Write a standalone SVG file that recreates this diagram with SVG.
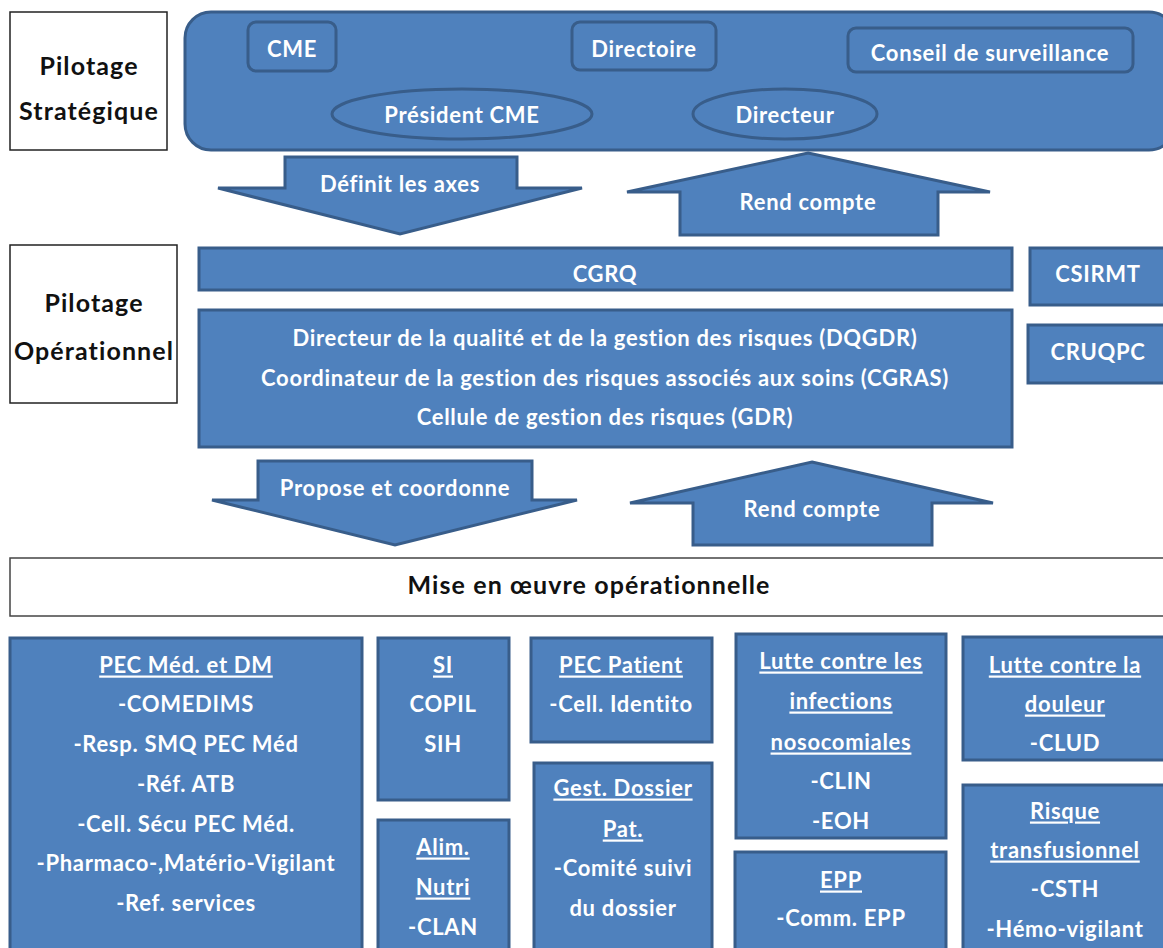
<svg xmlns="http://www.w3.org/2000/svg" width="1163" height="948" viewBox="0 0 1163 948">
<style>
.b{fill:#4F81BD;stroke:#385D8A;stroke-width:3}
.bi{fill:#4F81BD;stroke:#385D8A;stroke-width:3}
.w{fill:#fff;stroke:#222;stroke-width:1.5}
.wg{fill:#fff;stroke:#444;stroke-width:1.5}
text{font-family:Lato,"Open Sans","Liberation Sans",sans-serif;font-weight:bold;text-anchor:middle;dominant-baseline:central}
.t{fill:#fff;font-size:22px;letter-spacing:0.7px}
.k{fill:#111;font-size:25px;letter-spacing:1.1px}
.u{text-decoration:underline}
</style>
<rect width="1163" height="948" fill="#fff"/>

<g id="pilotage-strategique">
<rect class="w" x="10" y="12" width="157" height="138"/>
<text class="k" x="89" y="65">Pilotage</text>
<text class="k" x="89" y="110">Stratégique</text>
</g>

<g id="strategique-panel">
<rect class="b" x="185" y="12" width="990" height="138" rx="26"/>
</g>
<g id="cme"><rect class="bi" x="248" y="22" width="88" height="49" rx="8"/><text class="t" x="292" y="48">CME</text></g>
<g id="directoire"><rect class="bi" x="572" y="22" width="144" height="48" rx="8"/><text class="t" x="644" y="48">Directoire</text></g>
<g id="conseil"><rect class="bi" x="848" y="28" width="285" height="44" rx="8"/><text class="t" x="990" y="52">Conseil de surveillance</text></g>
<g id="president-cme"><ellipse class="bi" cx="462" cy="114" rx="130" ry="25"/><text class="t" x="462" y="114">Président CME</text></g>
<g id="directeur"><ellipse class="bi" cx="785" cy="114" rx="92" ry="25"/><text class="t" x="785" y="114">Directeur</text></g>

<g id="connectors">
<g id="arrow-definit">
<polygon class="b" points="285,157 517,157 517,188 582,188 400,234 218,188 285,188"/>
<text class="t" x="400" y="183">Définit les axes</text>
</g>
<g id="arrow-rend1">
<polygon class="b" points="808,153 990,192 938,192 938,235 680,235 680,192 627,192"/>
<text class="t" x="808" y="201">Rend compte</text>
</g>
<g id="arrow-propose">
<polygon class="b" points="258,461 532,461 532,500 577,500 395,545 212,500 258,500"/>
<text class="t" x="395" y="487">Propose et coordonne</text>
</g>
<g id="arrow-rend2">
<polygon class="b" points="812,462 993,503 932,503 932,545 693,545 693,503 630,503"/>
<text class="t" x="812" y="508">Rend compte</text>
</g>
</g>

<g id="pilotage-operationnel">
<rect class="w" x="10" y="245" width="167" height="158"/>
<text class="k" x="94" y="302">Pilotage</text>
<text class="k" x="94" y="350">Opérationnel</text>
</g>
<g id="cgrq"><rect class="b" x="199" y="248" width="813" height="42"/><text class="t" x="605" y="273">CGRQ</text></g>
<g id="csirmt"><rect class="b" x="1030" y="248" width="140" height="57"/><text class="t" x="1098" y="273">CSIRMT</text></g>
<g id="dqgdr">
<rect class="b" x="199" y="310" width="813" height="137"/>
<text class="t" x="605" y="337">Directeur de la qualité et de la gestion des risques (DQGDR)</text>
<text class="t" x="605" y="377">Coordinateur de la gestion des risques associés aux soins (CGRAS)</text>
<text class="t" x="605" y="416">Cellule de gestion des risques (GDR)</text>
</g>
<g id="cruqpc"><rect class="b" x="1028" y="325" width="142" height="58"/><text class="t" x="1098" y="351">CRUQPC</text></g>

<g id="mise-en-oeuvre">
<rect class="wg" x="10" y="558" width="1160" height="58"/>
<text class="k" x="589" y="584">Mise en œuvre opérationnelle</text>
</g>

<g id="pec-med">
<rect class="b" x="10" y="638" width="352" height="320"/>
<text class="t u" x="186" y="664">PEC Méd. et DM</text>
<text class="t" x="186" y="703">-COMEDIMS</text>
<text class="t" x="186" y="743">-Resp. SMQ PEC Méd</text>
<text class="t" x="186" y="783">-Réf. ATB</text>
<text class="t" x="186" y="823">-Cell. Sécu PEC Méd.</text>
<text class="t" x="186" y="862">-Pharmaco-,Matério-Vigilant</text>
<text class="t" x="186" y="902">-Ref. services</text>
</g>
<g id="si">
<rect class="b" x="378" y="638" width="131" height="162"/>
<text class="t u" x="443" y="664">SI</text>
<text class="t" x="443" y="703">COPIL</text>
<text class="t" x="443" y="743">SIH</text>
</g>
<g id="alim">
<rect class="b" x="378" y="820" width="131" height="140"/>
<text class="t u" x="443" y="846">Alim.</text>
<text class="t u" x="443" y="886">Nutri</text>
<text class="t" x="443" y="926">-CLAN</text>
</g>
<g id="pec-patient">
<rect class="b" x="531" y="638" width="181" height="104"/>
<text class="t u" x="621" y="664">PEC Patient</text>
<text class="t" x="621" y="703">-Cell. Identito</text>
</g>
<g id="gest-dossier">
<rect class="b" x="534" y="763" width="178" height="197"/>
<text class="t u" x="623" y="787">Gest. Dossier</text>
<text class="t u" x="623" y="828">Pat.</text>
<text class="t" x="623" y="867">-Comité suivi</text>
<text class="t" x="623" y="907">du dossier</text>
</g>
<g id="infections">
<rect class="b" x="736" y="634" width="210" height="204"/>
<text class="t u" x="841" y="660">Lutte contre les</text>
<text class="t u" x="841" y="700">infections</text>
<text class="t u" x="841" y="741">nosocomiales</text>
<text class="t" x="841" y="780">-CLIN</text>
<text class="t" x="841" y="820">-EOH</text>
</g>
<g id="epp">
<rect class="b" x="735" y="852" width="211" height="108"/>
<text class="t u" x="841" y="879">EPP</text>
<text class="t" x="841" y="917">-Comm. EPP</text>
</g>
<g id="douleur">
<rect class="b" x="963" y="637" width="207" height="123"/>
<text class="t u" x="1065" y="664">Lutte contre la</text>
<text class="t u" x="1065" y="703">douleur</text>
<text class="t" x="1065" y="742">-CLUD</text>
</g>
<g id="transfusionnel">
<rect class="b" x="963" y="785" width="207" height="175"/>
<text class="t u" x="1065" y="810">Risque</text>
<text class="t u" x="1065" y="849">transfusionnel</text>
<text class="t" x="1065" y="888">-CSTH</text>
<text class="t" x="1065" y="928">-Hémo-vigilant</text>
</g>
</svg>
